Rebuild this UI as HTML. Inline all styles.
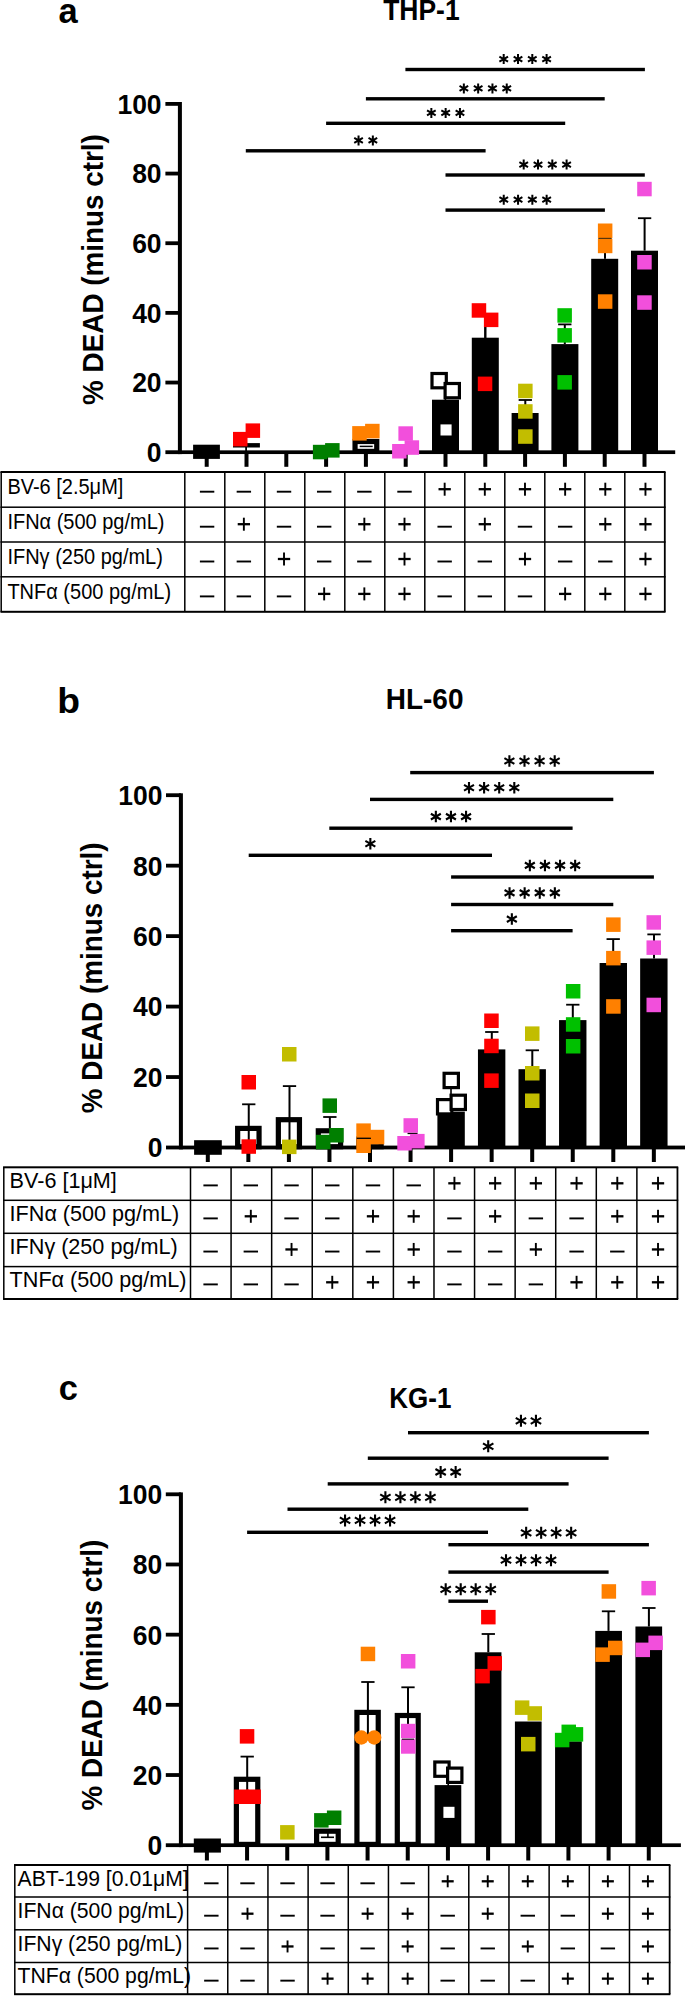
<!DOCTYPE html>
<html><head><meta charset="utf-8"><style>
html,body{margin:0;padding:0;background:#fff;}
body{width:685px;height:1996px;overflow:hidden;}
svg{display:block;font-family:"Liberation Sans",sans-serif;}
</style></head><body>
<svg width="685" height="1996" viewBox="0 0 685 1996">
<text transform="translate(58.60,22.70) scale(1.0,1.0)" font-size="34.5" font-weight="bold" text-anchor="start">a</text>
<text transform="translate(421.40,19.70) scale(1.0,1.1)" font-size="26.5" font-weight="bold" text-anchor="middle">THP-1</text>
<text transform="translate(102.6,269.5) rotate(-90) scale(1,1.03)" font-size="27.85" font-weight="bold" text-anchor="middle">% DEAD (minus ctrl)</text>
<rect x="177.90" y="102.00" width="4.00" height="352.10" fill="#000"/>
<rect x="165.40" y="450.30" width="14.50" height="3.80" fill="#000"/>
<text transform="translate(161.60,462.10) scale(1.0,1.057)" font-size="26.5" font-weight="bold" text-anchor="end">0</text>
<rect x="165.40" y="380.64" width="14.50" height="3.80" fill="#000"/>
<text transform="translate(161.60,392.44) scale(1.0,1.057)" font-size="26.5" font-weight="bold" text-anchor="end">20</text>
<rect x="165.40" y="310.98" width="14.50" height="3.80" fill="#000"/>
<text transform="translate(161.60,322.78) scale(1.0,1.057)" font-size="26.5" font-weight="bold" text-anchor="end">40</text>
<rect x="165.40" y="241.32" width="14.50" height="3.80" fill="#000"/>
<text transform="translate(161.60,253.12) scale(1.0,1.057)" font-size="26.5" font-weight="bold" text-anchor="end">60</text>
<rect x="165.40" y="171.66" width="14.50" height="3.80" fill="#000"/>
<text transform="translate(161.60,183.46) scale(1.0,1.057)" font-size="26.5" font-weight="bold" text-anchor="end">80</text>
<rect x="165.40" y="102.00" width="14.50" height="3.80" fill="#000"/>
<text transform="translate(161.60,113.80) scale(1.0,1.057)" font-size="26.5" font-weight="bold" text-anchor="end">100</text>
<rect x="355.05" y="441.50" width="21.70" height="9.90" fill="#fff" stroke="#000" stroke-width="5.2"/>
<rect x="359.70" y="445.65" width="13.00" height="1.50" fill="#000"/>
<rect x="432.00" y="399.70" width="27.00" height="52.50" fill="#000"/>
<rect x="471.80" y="337.70" width="27.00" height="114.50" fill="#000"/>
<rect x="511.60" y="413.00" width="27.00" height="39.20" fill="#000"/>
<rect x="551.40" y="344.10" width="27.00" height="108.10" fill="#000"/>
<rect x="591.20" y="258.80" width="27.00" height="193.40" fill="#000"/>
<rect x="631.00" y="250.70" width="27.00" height="201.50" fill="#000"/>
<rect x="179.90" y="450.35" width="495.30" height="3.70" fill="#000"/>
<rect x="204.70" y="452.20" width="4.00" height="14.60" fill="#000"/>
<rect x="244.50" y="452.20" width="4.00" height="14.60" fill="#000"/>
<rect x="284.30" y="452.20" width="4.00" height="14.60" fill="#000"/>
<rect x="324.10" y="452.20" width="4.00" height="14.60" fill="#000"/>
<rect x="363.90" y="452.20" width="4.00" height="14.60" fill="#000"/>
<rect x="403.70" y="452.20" width="4.00" height="14.60" fill="#000"/>
<rect x="443.50" y="452.20" width="4.00" height="14.60" fill="#000"/>
<rect x="483.30" y="452.20" width="4.00" height="14.60" fill="#000"/>
<rect x="523.10" y="452.20" width="4.00" height="14.60" fill="#000"/>
<rect x="562.90" y="452.20" width="4.00" height="14.60" fill="#000"/>
<rect x="602.70" y="452.20" width="4.00" height="14.60" fill="#000"/>
<rect x="642.50" y="452.20" width="4.00" height="14.60" fill="#000"/>
<rect x="444.60" y="388.00" width="1.60" height="12.00" fill="#000"/>
<rect x="484.10" y="326.00" width="2.40" height="12.00" fill="#000"/>
<rect x="524.30" y="400.00" width="2.00" height="13.00" fill="#000"/>
<rect x="518.65" y="399.10" width="13.30" height="1.80" fill="#000"/>
<rect x="563.80" y="324.40" width="2.00" height="19.70" fill="#000"/>
<rect x="558.15" y="323.50" width="13.30" height="1.80" fill="#000"/>
<rect x="604.00" y="238.30" width="2.00" height="20.50" fill="#000"/>
<rect x="598.35" y="237.40" width="13.30" height="1.80" fill="#000"/>
<rect x="643.60" y="218.20" width="2.00" height="32.50" fill="#000"/>
<rect x="637.95" y="217.30" width="13.30" height="1.80" fill="#000"/>
<rect x="193.10" y="444.70" width="26.80" height="14.20" fill="#000"/>
<rect x="233.00" y="443.10" width="26.90" height="4.40" fill="#000"/>
<rect x="245.20" y="447.00" width="1.80" height="4.00" fill="#000"/>
<rect x="233.00" y="431.90" width="14.50" height="14.50" fill="#ff0000"/>
<rect x="245.60" y="423.40" width="14.50" height="14.50" fill="#ff0000"/>
<rect x="312.90" y="444.80" width="14.50" height="14.50" fill="#007f00"/>
<rect x="325.10" y="443.10" width="14.50" height="14.50" fill="#007f00"/>
<rect x="352.20" y="426.10" width="14.50" height="14.50" fill="#ff8000"/>
<rect x="365.10" y="423.80" width="14.50" height="14.50" fill="#ff8000"/>
<rect x="398.40" y="426.30" width="14.50" height="14.50" fill="#f24fdc"/>
<rect x="392.10" y="444.00" width="14.50" height="14.50" fill="#f24fdc"/>
<rect x="404.60" y="440.30" width="14.50" height="14.50" fill="#f24fdc"/>
<rect x="432.00" y="373.50" width="14.30" height="14.30" fill="#fff" stroke="#000" stroke-width="3.2"/>
<rect x="445.10" y="383.50" width="14.30" height="14.30" fill="#fff" stroke="#000" stroke-width="3.2"/>
<rect x="438.90" y="422.80" width="14.30" height="14.30" fill="#fff" stroke="#000" stroke-width="3.2"/>
<rect x="471.70" y="303.20" width="14.50" height="14.50" fill="#ff0000"/>
<rect x="483.90" y="312.60" width="14.50" height="14.50" fill="#ff0000"/>
<rect x="477.80" y="376.60" width="14.50" height="14.50" fill="#ff0000"/>
<rect x="518.10" y="383.70" width="14.50" height="14.50" fill="#c2bd00"/>
<rect x="518.10" y="404.20" width="14.50" height="14.50" fill="#c2bd00"/>
<rect x="518.10" y="429.30" width="14.50" height="14.50" fill="#c2bd00"/>
<rect x="557.40" y="308.20" width="14.50" height="14.50" fill="#00c000"/>
<rect x="557.40" y="328.10" width="14.50" height="14.50" fill="#00c000"/>
<rect x="557.40" y="375.10" width="14.50" height="14.50" fill="#00c000"/>
<rect x="597.90" y="223.50" width="14.50" height="14.50" fill="#ff8000"/>
<rect x="597.90" y="238.70" width="14.50" height="14.50" fill="#ff8000"/>
<rect x="597.90" y="294.30" width="14.50" height="14.50" fill="#ff8000"/>
<rect x="599.00" y="237.80" width="12.00" height="1.00" fill="#5a3a10"/>
<rect x="637.20" y="181.80" width="14.50" height="14.50" fill="#f24fdc"/>
<rect x="637.20" y="255.00" width="14.50" height="14.50" fill="#f24fdc"/>
<rect x="637.20" y="295.30" width="14.50" height="14.50" fill="#f24fdc"/>
<rect x="405.40" y="67.80" width="239.50" height="3.40" fill="#000"/>
<path d="M503.70,54.10L503.70,64.10M499.37,56.60L508.03,61.60M508.03,56.60L499.37,61.60" stroke="#000" stroke-width="2.0" fill="none"/>
<path d="M518.00,54.10L518.00,64.10M513.67,56.60L522.33,61.60M522.33,56.60L513.67,61.60" stroke="#000" stroke-width="2.0" fill="none"/>
<path d="M532.30,54.10L532.30,64.10M527.97,56.60L536.63,61.60M536.63,56.60L527.97,61.60" stroke="#000" stroke-width="2.0" fill="none"/>
<path d="M546.60,54.10L546.60,64.10M542.27,56.60L550.93,61.60M550.93,56.60L542.27,61.60" stroke="#000" stroke-width="2.0" fill="none"/>
<rect x="365.90" y="97.10" width="238.80" height="3.40" fill="#000"/>
<path d="M463.85,83.40L463.85,93.40M459.52,85.90L468.18,90.90M468.18,85.90L459.52,90.90" stroke="#000" stroke-width="2.0" fill="none"/>
<path d="M478.15,83.40L478.15,93.40M473.82,85.90L482.48,90.90M482.48,85.90L473.82,90.90" stroke="#000" stroke-width="2.0" fill="none"/>
<path d="M492.45,83.40L492.45,93.40M488.12,85.90L496.78,90.90M496.78,85.90L488.12,90.90" stroke="#000" stroke-width="2.0" fill="none"/>
<path d="M506.75,83.40L506.75,93.40M502.42,85.90L511.08,90.90M511.08,85.90L502.42,90.90" stroke="#000" stroke-width="2.0" fill="none"/>
<rect x="326.10" y="121.60" width="239.10" height="3.40" fill="#000"/>
<path d="M431.35,107.90L431.35,117.90M427.02,110.40L435.68,115.40M435.68,110.40L427.02,115.40" stroke="#000" stroke-width="2.0" fill="none"/>
<path d="M445.65,107.90L445.65,117.90M441.32,110.40L449.98,115.40M449.98,110.40L441.32,115.40" stroke="#000" stroke-width="2.0" fill="none"/>
<path d="M459.95,107.90L459.95,117.90M455.62,110.40L464.28,115.40M464.28,110.40L455.62,115.40" stroke="#000" stroke-width="2.0" fill="none"/>
<rect x="245.80" y="149.10" width="239.80" height="3.40" fill="#000"/>
<path d="M358.55,135.40L358.55,145.40M354.22,137.90L362.88,142.90M362.88,137.90L354.22,142.90" stroke="#000" stroke-width="2.0" fill="none"/>
<path d="M372.85,135.40L372.85,145.40M368.52,137.90L377.18,142.90M377.18,137.90L368.52,142.90" stroke="#000" stroke-width="2.0" fill="none"/>
<rect x="445.50" y="173.30" width="199.30" height="3.40" fill="#000"/>
<path d="M523.70,159.60L523.70,169.60M519.37,162.10L528.03,167.10M528.03,162.10L519.37,167.10" stroke="#000" stroke-width="2.0" fill="none"/>
<path d="M538.00,159.60L538.00,169.60M533.67,162.10L542.33,167.10M542.33,162.10L533.67,167.10" stroke="#000" stroke-width="2.0" fill="none"/>
<path d="M552.30,159.60L552.30,169.60M547.97,162.10L556.63,167.10M556.63,162.10L547.97,167.10" stroke="#000" stroke-width="2.0" fill="none"/>
<path d="M566.60,159.60L566.60,169.60M562.27,162.10L570.93,167.10M570.93,162.10L562.27,167.10" stroke="#000" stroke-width="2.0" fill="none"/>
<rect x="445.50" y="208.40" width="159.40" height="3.40" fill="#000"/>
<path d="M503.75,194.70L503.75,204.70M499.42,197.20L508.08,202.20M508.08,197.20L499.42,202.20" stroke="#000" stroke-width="2.0" fill="none"/>
<path d="M518.05,194.70L518.05,204.70M513.72,197.20L522.38,202.20M522.38,197.20L513.72,202.20" stroke="#000" stroke-width="2.0" fill="none"/>
<path d="M532.35,194.70L532.35,204.70M528.02,197.20L536.68,202.20M536.68,197.20L528.02,202.20" stroke="#000" stroke-width="2.0" fill="none"/>
<path d="M546.65,194.70L546.65,204.70M542.32,197.20L550.98,202.20M550.98,197.20L542.32,202.20" stroke="#000" stroke-width="2.0" fill="none"/>
<rect x="0.45" y="471.00" width="665.10" height="2.00" fill="#000"/>
<rect x="0.45" y="506.45" width="665.10" height="1.50" fill="#000"/>
<rect x="0.45" y="541.25" width="665.10" height="1.50" fill="#000"/>
<rect x="0.45" y="576.05" width="665.10" height="1.50" fill="#000"/>
<rect x="0.45" y="610.80" width="665.10" height="2.00" fill="#000"/>
<rect x="0.45" y="472.00" width="1.50" height="139.80" fill="#000"/>
<rect x="184.05" y="472.00" width="1.50" height="139.80" fill="#000"/>
<rect x="224.05" y="472.00" width="1.50" height="139.80" fill="#000"/>
<rect x="264.05" y="472.00" width="1.50" height="139.80" fill="#000"/>
<rect x="304.05" y="472.00" width="1.50" height="139.80" fill="#000"/>
<rect x="344.05" y="472.00" width="1.50" height="139.80" fill="#000"/>
<rect x="384.05" y="472.00" width="1.50" height="139.80" fill="#000"/>
<rect x="424.05" y="472.00" width="1.50" height="139.80" fill="#000"/>
<rect x="464.05" y="472.00" width="1.50" height="139.80" fill="#000"/>
<rect x="504.05" y="472.00" width="1.50" height="139.80" fill="#000"/>
<rect x="544.05" y="472.00" width="1.50" height="139.80" fill="#000"/>
<rect x="584.05" y="472.00" width="1.50" height="139.80" fill="#000"/>
<rect x="624.05" y="472.00" width="1.50" height="139.80" fill="#000"/>
<rect x="663.90" y="472.00" width="1.80" height="139.80" fill="#000"/>
<text transform="translate(7.40,494.10) scale(1.0,1.06)" font-size="20" font-weight="normal" text-anchor="start">BV-6 [2.5μM]</text>
<rect x="199.90" y="490.75" width="14.40" height="1.90" fill="#000"/>
<rect x="236.66" y="490.75" width="14.40" height="1.90" fill="#000"/>
<rect x="276.82" y="490.75" width="14.40" height="1.90" fill="#000"/>
<rect x="316.98" y="490.75" width="14.40" height="1.90" fill="#000"/>
<rect x="357.14" y="490.75" width="14.40" height="1.90" fill="#000"/>
<rect x="397.30" y="490.75" width="14.40" height="1.90" fill="#000"/>
<rect x="443.71" y="482.70" width="1.90" height="13.00" fill="#000"/>
<rect x="438.51" y="488.05" width="12.30" height="2.30" fill="#000"/>
<rect x="483.87" y="482.70" width="1.90" height="13.00" fill="#000"/>
<rect x="478.67" y="488.05" width="12.30" height="2.30" fill="#000"/>
<rect x="524.03" y="482.70" width="1.90" height="13.00" fill="#000"/>
<rect x="518.83" y="488.05" width="12.30" height="2.30" fill="#000"/>
<rect x="564.19" y="482.70" width="1.90" height="13.00" fill="#000"/>
<rect x="558.99" y="488.05" width="12.30" height="2.30" fill="#000"/>
<rect x="604.35" y="482.70" width="1.90" height="13.00" fill="#000"/>
<rect x="599.15" y="488.05" width="12.30" height="2.30" fill="#000"/>
<rect x="644.51" y="482.70" width="1.90" height="13.00" fill="#000"/>
<rect x="639.31" y="488.05" width="12.30" height="2.30" fill="#000"/>
<text transform="translate(7.40,529.10) scale(1.0,1.06)" font-size="20" font-weight="normal" text-anchor="start">IFNα (500 pg/mL)</text>
<rect x="199.90" y="525.75" width="14.40" height="1.90" fill="#000"/>
<rect x="242.91" y="517.70" width="1.90" height="13.00" fill="#000"/>
<rect x="237.71" y="523.05" width="12.30" height="2.30" fill="#000"/>
<rect x="276.82" y="525.75" width="14.40" height="1.90" fill="#000"/>
<rect x="316.98" y="525.75" width="14.40" height="1.90" fill="#000"/>
<rect x="363.39" y="517.70" width="1.90" height="13.00" fill="#000"/>
<rect x="358.19" y="523.05" width="12.30" height="2.30" fill="#000"/>
<rect x="403.55" y="517.70" width="1.90" height="13.00" fill="#000"/>
<rect x="398.35" y="523.05" width="12.30" height="2.30" fill="#000"/>
<rect x="437.46" y="525.75" width="14.40" height="1.90" fill="#000"/>
<rect x="483.87" y="517.70" width="1.90" height="13.00" fill="#000"/>
<rect x="478.67" y="523.05" width="12.30" height="2.30" fill="#000"/>
<rect x="517.78" y="525.75" width="14.40" height="1.90" fill="#000"/>
<rect x="557.94" y="525.75" width="14.40" height="1.90" fill="#000"/>
<rect x="604.35" y="517.70" width="1.90" height="13.00" fill="#000"/>
<rect x="599.15" y="523.05" width="12.30" height="2.30" fill="#000"/>
<rect x="644.51" y="517.70" width="1.90" height="13.00" fill="#000"/>
<rect x="639.31" y="523.05" width="12.30" height="2.30" fill="#000"/>
<text transform="translate(7.40,563.90) scale(1.0,1.06)" font-size="20" font-weight="normal" text-anchor="start">IFNγ (250 pg/mL)</text>
<rect x="199.90" y="560.55" width="14.40" height="1.90" fill="#000"/>
<rect x="236.66" y="560.55" width="14.40" height="1.90" fill="#000"/>
<rect x="283.07" y="552.50" width="1.90" height="13.00" fill="#000"/>
<rect x="277.87" y="557.85" width="12.30" height="2.30" fill="#000"/>
<rect x="316.98" y="560.55" width="14.40" height="1.90" fill="#000"/>
<rect x="357.14" y="560.55" width="14.40" height="1.90" fill="#000"/>
<rect x="403.55" y="552.50" width="1.90" height="13.00" fill="#000"/>
<rect x="398.35" y="557.85" width="12.30" height="2.30" fill="#000"/>
<rect x="437.46" y="560.55" width="14.40" height="1.90" fill="#000"/>
<rect x="477.62" y="560.55" width="14.40" height="1.90" fill="#000"/>
<rect x="524.03" y="552.50" width="1.90" height="13.00" fill="#000"/>
<rect x="518.83" y="557.85" width="12.30" height="2.30" fill="#000"/>
<rect x="557.94" y="560.55" width="14.40" height="1.90" fill="#000"/>
<rect x="598.10" y="560.55" width="14.40" height="1.90" fill="#000"/>
<rect x="644.51" y="552.50" width="1.90" height="13.00" fill="#000"/>
<rect x="639.31" y="557.85" width="12.30" height="2.30" fill="#000"/>
<text transform="translate(7.40,598.80) scale(1.0,1.06)" font-size="20" font-weight="normal" text-anchor="start">TNFα (500 pg/mL)</text>
<rect x="199.90" y="595.45" width="14.40" height="1.90" fill="#000"/>
<rect x="236.66" y="595.45" width="14.40" height="1.90" fill="#000"/>
<rect x="276.82" y="595.45" width="14.40" height="1.90" fill="#000"/>
<rect x="323.23" y="587.40" width="1.90" height="13.00" fill="#000"/>
<rect x="318.03" y="592.75" width="12.30" height="2.30" fill="#000"/>
<rect x="363.39" y="587.40" width="1.90" height="13.00" fill="#000"/>
<rect x="358.19" y="592.75" width="12.30" height="2.30" fill="#000"/>
<rect x="403.55" y="587.40" width="1.90" height="13.00" fill="#000"/>
<rect x="398.35" y="592.75" width="12.30" height="2.30" fill="#000"/>
<rect x="437.46" y="595.45" width="14.40" height="1.90" fill="#000"/>
<rect x="477.62" y="595.45" width="14.40" height="1.90" fill="#000"/>
<rect x="517.78" y="595.45" width="14.40" height="1.90" fill="#000"/>
<rect x="564.19" y="587.40" width="1.90" height="13.00" fill="#000"/>
<rect x="558.99" y="592.75" width="12.30" height="2.30" fill="#000"/>
<rect x="604.35" y="587.40" width="1.90" height="13.00" fill="#000"/>
<rect x="599.15" y="592.75" width="12.30" height="2.30" fill="#000"/>
<rect x="644.51" y="587.40" width="1.90" height="13.00" fill="#000"/>
<rect x="639.31" y="592.75" width="12.30" height="2.30" fill="#000"/>
<text transform="translate(57.20,712.80) scale(1.08,1.0)" font-size="34.5" font-weight="bold" text-anchor="start">b</text>
<text transform="translate(424.60,708.90) scale(1.0,1.05)" font-size="28" font-weight="bold" text-anchor="middle">HL-60</text>
<text transform="translate(101.5,977.8) rotate(-90) scale(1,1.03)" font-size="27.85" font-weight="bold" text-anchor="middle">% DEAD (minus ctrl)</text>
<rect x="178.90" y="793.30" width="4.00" height="356.10" fill="#000"/>
<rect x="166.00" y="1145.60" width="14.90" height="3.80" fill="#000"/>
<text transform="translate(162.40,1157.40) scale(1.0,1.057)" font-size="26.5" font-weight="bold" text-anchor="end">0</text>
<rect x="166.00" y="1075.14" width="14.90" height="3.80" fill="#000"/>
<text transform="translate(162.40,1086.94) scale(1.0,1.057)" font-size="26.5" font-weight="bold" text-anchor="end">20</text>
<rect x="166.00" y="1004.68" width="14.90" height="3.80" fill="#000"/>
<text transform="translate(162.40,1016.48) scale(1.0,1.057)" font-size="26.5" font-weight="bold" text-anchor="end">40</text>
<rect x="166.00" y="934.22" width="14.90" height="3.80" fill="#000"/>
<text transform="translate(162.40,946.02) scale(1.0,1.057)" font-size="26.5" font-weight="bold" text-anchor="end">60</text>
<rect x="166.00" y="863.76" width="14.90" height="3.80" fill="#000"/>
<text transform="translate(162.40,875.56) scale(1.0,1.057)" font-size="26.5" font-weight="bold" text-anchor="end">80</text>
<rect x="166.00" y="793.30" width="14.90" height="3.80" fill="#000"/>
<text transform="translate(162.40,805.10) scale(1.0,1.057)" font-size="26.5" font-weight="bold" text-anchor="end">100</text>
<rect x="237.65" y="1128.40" width="21.40" height="18.30" fill="#fff" stroke="#000" stroke-width="5.2"/>
<rect x="278.35" y="1119.70" width="21.10" height="27.00" fill="#fff" stroke="#000" stroke-width="5.2"/>
<rect x="318.30" y="1130.80" width="22.30" height="15.90" fill="#fff" stroke="#000" stroke-width="5.2"/>
<rect x="358.85" y="1139.10" width="22.30" height="7.60" fill="#fff" stroke="#000" stroke-width="5.2"/>
<rect x="437.40" y="1111.60" width="27.40" height="35.90" fill="#000"/>
<rect x="477.95" y="1049.40" width="27.40" height="98.10" fill="#000"/>
<rect x="518.50" y="1069.20" width="27.40" height="78.30" fill="#000"/>
<rect x="559.05" y="1020.10" width="27.40" height="127.40" fill="#000"/>
<rect x="599.60" y="963.00" width="27.40" height="184.50" fill="#000"/>
<rect x="640.15" y="958.50" width="27.40" height="189.00" fill="#000"/>
<rect x="180.90" y="1145.60" width="504.10" height="3.80" fill="#000"/>
<rect x="205.80" y="1147.50" width="4.00" height="14.50" fill="#000"/>
<rect x="246.35" y="1147.50" width="4.00" height="14.50" fill="#000"/>
<rect x="286.90" y="1147.50" width="4.00" height="14.50" fill="#000"/>
<rect x="327.45" y="1147.50" width="4.00" height="14.50" fill="#000"/>
<rect x="368.00" y="1147.50" width="4.00" height="14.50" fill="#000"/>
<rect x="408.55" y="1147.50" width="4.00" height="14.50" fill="#000"/>
<rect x="449.10" y="1147.50" width="4.00" height="14.50" fill="#000"/>
<rect x="489.65" y="1147.50" width="4.00" height="14.50" fill="#000"/>
<rect x="530.20" y="1147.50" width="4.00" height="14.50" fill="#000"/>
<rect x="570.75" y="1147.50" width="4.00" height="14.50" fill="#000"/>
<rect x="611.30" y="1147.50" width="4.00" height="14.50" fill="#000"/>
<rect x="651.85" y="1147.50" width="4.00" height="14.50" fill="#000"/>
<rect x="247.75" y="1104.30" width="2.00" height="42.70" fill="#000"/>
<rect x="242.10" y="1103.40" width="13.30" height="1.80" fill="#000"/>
<rect x="288.50" y="1086.10" width="2.00" height="60.90" fill="#000"/>
<rect x="282.85" y="1085.20" width="13.30" height="1.80" fill="#000"/>
<rect x="328.85" y="1117.00" width="2.00" height="11.50" fill="#000"/>
<rect x="323.20" y="1116.10" width="13.30" height="1.80" fill="#000"/>
<rect x="407.55" y="1132.65" width="10.00" height="1.50" fill="#000"/>
<rect x="450.20" y="1087.00" width="1.60" height="8.00" fill="#000"/>
<rect x="490.80" y="1032.00" width="2.00" height="17.40" fill="#000"/>
<rect x="485.15" y="1031.10" width="13.30" height="1.80" fill="#000"/>
<rect x="531.30" y="1050.30" width="2.00" height="18.90" fill="#000"/>
<rect x="525.65" y="1049.40" width="13.30" height="1.80" fill="#000"/>
<rect x="571.80" y="1004.70" width="2.00" height="15.40" fill="#000"/>
<rect x="566.15" y="1003.80" width="13.30" height="1.80" fill="#000"/>
<rect x="612.20" y="939.10" width="2.00" height="23.90" fill="#000"/>
<rect x="606.55" y="938.20" width="13.30" height="1.80" fill="#000"/>
<rect x="653.00" y="934.40" width="2.00" height="24.10" fill="#000"/>
<rect x="647.35" y="933.50" width="13.30" height="1.80" fill="#000"/>
<rect x="194.10" y="1140.20" width="27.70" height="14.60" fill="#000"/>
<rect x="241.50" y="1075.00" width="14.50" height="14.50" fill="#ff0000"/>
<rect x="241.50" y="1139.30" width="14.50" height="14.50" fill="#ff0000"/>
<rect x="282.00" y="1047.00" width="14.50" height="14.50" fill="#c2bd00"/>
<rect x="282.00" y="1139.60" width="14.50" height="14.50" fill="#c2bd00"/>
<rect x="322.50" y="1098.40" width="14.50" height="14.50" fill="#007f00"/>
<rect x="316.00" y="1134.80" width="14.50" height="14.50" fill="#007f00"/>
<rect x="329.20" y="1128.00" width="14.50" height="14.50" fill="#007f00"/>
<rect x="356.30" y="1123.40" width="14.50" height="14.50" fill="#ff8000"/>
<rect x="356.30" y="1138.50" width="14.50" height="14.50" fill="#ff8000"/>
<rect x="369.80" y="1129.80" width="14.50" height="14.50" fill="#ff8000"/>
<rect x="357.00" y="1137.70" width="14.00" height="1.20" fill="#000"/>
<rect x="403.50" y="1118.20" width="14.50" height="14.50" fill="#f24fdc"/>
<rect x="397.30" y="1136.00" width="14.50" height="14.50" fill="#f24fdc"/>
<rect x="410.10" y="1133.90" width="14.50" height="14.50" fill="#f24fdc"/>
<rect x="444.10" y="1073.30" width="14.30" height="14.30" fill="#fff" stroke="#000" stroke-width="3.2"/>
<rect x="437.50" y="1099.60" width="14.30" height="14.30" fill="#fff" stroke="#000" stroke-width="3.2"/>
<rect x="451.10" y="1095.20" width="14.30" height="14.30" fill="#fff" stroke="#000" stroke-width="3.2"/>
<rect x="484.20" y="1013.50" width="14.50" height="14.50" fill="#ff0000"/>
<rect x="484.20" y="1038.70" width="14.50" height="14.50" fill="#ff0000"/>
<rect x="484.20" y="1073.40" width="14.50" height="14.50" fill="#ff0000"/>
<rect x="525.00" y="1026.40" width="14.50" height="14.50" fill="#c2bd00"/>
<rect x="525.00" y="1066.00" width="14.50" height="14.50" fill="#c2bd00"/>
<rect x="525.00" y="1093.50" width="14.50" height="14.50" fill="#c2bd00"/>
<rect x="565.90" y="984.00" width="14.50" height="14.50" fill="#00c000"/>
<rect x="565.90" y="1017.20" width="14.50" height="14.50" fill="#00c000"/>
<rect x="565.90" y="1039.00" width="14.50" height="14.50" fill="#00c000"/>
<rect x="606.10" y="917.40" width="14.50" height="14.50" fill="#ff8000"/>
<rect x="606.10" y="950.90" width="14.50" height="14.50" fill="#ff8000"/>
<rect x="606.10" y="999.20" width="14.50" height="14.50" fill="#ff8000"/>
<rect x="646.50" y="915.20" width="14.50" height="14.50" fill="#f24fdc"/>
<rect x="646.50" y="940.40" width="14.50" height="14.50" fill="#f24fdc"/>
<rect x="646.50" y="997.70" width="14.50" height="14.50" fill="#f24fdc"/>
<rect x="410.20" y="770.90" width="243.70" height="3.40" fill="#000"/>
<path d="M509.40,755.25L509.40,766.75M504.42,758.12L514.38,763.88M514.38,758.12L504.42,763.88" stroke="#000" stroke-width="2.1" fill="none"/>
<path d="M524.50,755.25L524.50,766.75M519.52,758.12L529.48,763.88M529.48,758.12L519.52,763.88" stroke="#000" stroke-width="2.1" fill="none"/>
<path d="M539.60,755.25L539.60,766.75M534.62,758.12L544.58,763.88M544.58,758.12L534.62,763.88" stroke="#000" stroke-width="2.1" fill="none"/>
<path d="M554.70,755.25L554.70,766.75M549.72,758.12L559.68,763.88M559.68,758.12L549.72,763.88" stroke="#000" stroke-width="2.1" fill="none"/>
<rect x="370.00" y="797.70" width="243.30" height="3.40" fill="#000"/>
<path d="M469.00,782.05L469.00,793.55M464.02,784.92L473.98,790.67M473.98,784.92L464.02,790.67" stroke="#000" stroke-width="2.1" fill="none"/>
<path d="M484.10,782.05L484.10,793.55M479.12,784.92L489.08,790.67M489.08,784.92L479.12,790.67" stroke="#000" stroke-width="2.1" fill="none"/>
<path d="M499.20,782.05L499.20,793.55M494.22,784.92L504.18,790.67M504.18,784.92L494.22,790.67" stroke="#000" stroke-width="2.1" fill="none"/>
<path d="M514.30,782.05L514.30,793.55M509.32,784.92L519.28,790.67M519.28,784.92L509.32,790.67" stroke="#000" stroke-width="2.1" fill="none"/>
<rect x="329.30" y="826.50" width="243.30" height="3.40" fill="#000"/>
<path d="M435.85,810.85L435.85,822.35M430.87,813.73L440.83,819.48M440.83,813.73L430.87,819.48" stroke="#000" stroke-width="2.1" fill="none"/>
<path d="M450.95,810.85L450.95,822.35M445.97,813.73L455.93,819.48M455.93,813.73L445.97,819.48" stroke="#000" stroke-width="2.1" fill="none"/>
<path d="M466.05,810.85L466.05,822.35M461.07,813.73L471.03,819.48M471.03,813.73L461.07,819.48" stroke="#000" stroke-width="2.1" fill="none"/>
<rect x="248.70" y="853.60" width="243.30" height="3.40" fill="#000"/>
<path d="M370.35,837.95L370.35,849.45M365.37,840.82L375.33,846.57M375.33,840.82L365.37,846.57" stroke="#000" stroke-width="2.1" fill="none"/>
<rect x="451.10" y="875.30" width="202.80" height="3.40" fill="#000"/>
<path d="M529.85,859.65L529.85,871.15M524.87,862.52L534.83,868.27M534.83,862.52L524.87,868.27" stroke="#000" stroke-width="2.1" fill="none"/>
<path d="M544.95,859.65L544.95,871.15M539.97,862.52L549.93,868.27M549.93,862.52L539.97,868.27" stroke="#000" stroke-width="2.1" fill="none"/>
<path d="M560.05,859.65L560.05,871.15M555.07,862.52L565.03,868.27M565.03,862.52L555.07,868.27" stroke="#000" stroke-width="2.1" fill="none"/>
<path d="M575.15,859.65L575.15,871.15M570.17,862.52L580.13,868.27M580.13,862.52L570.17,868.27" stroke="#000" stroke-width="2.1" fill="none"/>
<rect x="451.10" y="902.80" width="162.20" height="3.40" fill="#000"/>
<path d="M509.55,887.15L509.55,898.65M504.57,890.02L514.53,895.77M514.53,890.02L504.57,895.77" stroke="#000" stroke-width="2.1" fill="none"/>
<path d="M524.65,887.15L524.65,898.65M519.67,890.02L529.63,895.77M529.63,890.02L519.67,895.77" stroke="#000" stroke-width="2.1" fill="none"/>
<path d="M539.75,887.15L539.75,898.65M534.77,890.02L544.73,895.77M544.73,890.02L534.77,895.77" stroke="#000" stroke-width="2.1" fill="none"/>
<path d="M554.85,887.15L554.85,898.65M549.87,890.02L559.83,895.77M559.83,890.02L549.87,895.77" stroke="#000" stroke-width="2.1" fill="none"/>
<rect x="451.10" y="929.00" width="121.50" height="3.40" fill="#000"/>
<path d="M511.85,913.35L511.85,924.85M506.87,916.23L516.83,921.98M516.83,916.23L506.87,921.98" stroke="#000" stroke-width="2.1" fill="none"/>
<rect x="3.05" y="1166.30" width="675.16" height="2.00" fill="#000"/>
<rect x="3.05" y="1199.55" width="675.16" height="1.50" fill="#000"/>
<rect x="3.05" y="1232.55" width="675.16" height="1.50" fill="#000"/>
<rect x="3.05" y="1265.85" width="675.16" height="1.50" fill="#000"/>
<rect x="3.05" y="1298.00" width="675.16" height="2.00" fill="#000"/>
<rect x="3.05" y="1167.30" width="1.50" height="131.70" fill="#000"/>
<rect x="189.75" y="1167.30" width="1.50" height="131.70" fill="#000"/>
<rect x="230.33" y="1167.30" width="1.50" height="131.70" fill="#000"/>
<rect x="270.91" y="1167.30" width="1.50" height="131.70" fill="#000"/>
<rect x="311.49" y="1167.30" width="1.50" height="131.70" fill="#000"/>
<rect x="352.07" y="1167.30" width="1.50" height="131.70" fill="#000"/>
<rect x="392.65" y="1167.30" width="1.50" height="131.70" fill="#000"/>
<rect x="433.23" y="1167.30" width="1.50" height="131.70" fill="#000"/>
<rect x="473.81" y="1167.30" width="1.50" height="131.70" fill="#000"/>
<rect x="514.39" y="1167.30" width="1.50" height="131.70" fill="#000"/>
<rect x="554.97" y="1167.30" width="1.50" height="131.70" fill="#000"/>
<rect x="595.55" y="1167.30" width="1.50" height="131.70" fill="#000"/>
<rect x="636.13" y="1167.30" width="1.50" height="131.70" fill="#000"/>
<rect x="676.56" y="1167.30" width="1.80" height="131.70" fill="#000"/>
<text transform="translate(9.60,1188.30) scale(1.08,1.06)" font-size="20" font-weight="normal" text-anchor="start">BV-6 [1μM]</text>
<rect x="203.40" y="1184.45" width="14.40" height="1.90" fill="#000"/>
<rect x="243.62" y="1184.45" width="14.40" height="1.90" fill="#000"/>
<rect x="284.34" y="1184.45" width="14.40" height="1.90" fill="#000"/>
<rect x="325.06" y="1184.45" width="14.40" height="1.90" fill="#000"/>
<rect x="365.78" y="1184.45" width="14.40" height="1.90" fill="#000"/>
<rect x="406.50" y="1184.45" width="14.40" height="1.90" fill="#000"/>
<rect x="453.47" y="1176.80" width="1.90" height="13.00" fill="#000"/>
<rect x="448.27" y="1182.15" width="12.30" height="2.30" fill="#000"/>
<rect x="494.19" y="1176.80" width="1.90" height="13.00" fill="#000"/>
<rect x="488.99" y="1182.15" width="12.30" height="2.30" fill="#000"/>
<rect x="534.91" y="1176.80" width="1.90" height="13.00" fill="#000"/>
<rect x="529.71" y="1182.15" width="12.30" height="2.30" fill="#000"/>
<rect x="575.63" y="1176.80" width="1.90" height="13.00" fill="#000"/>
<rect x="570.43" y="1182.15" width="12.30" height="2.30" fill="#000"/>
<rect x="616.35" y="1176.80" width="1.90" height="13.00" fill="#000"/>
<rect x="611.15" y="1182.15" width="12.30" height="2.30" fill="#000"/>
<rect x="657.07" y="1176.80" width="1.90" height="13.00" fill="#000"/>
<rect x="651.87" y="1182.15" width="12.30" height="2.30" fill="#000"/>
<text transform="translate(9.60,1221.30) scale(1.08,1.06)" font-size="20" font-weight="normal" text-anchor="start">IFNα (500 pg/mL)</text>
<rect x="203.40" y="1217.45" width="14.40" height="1.90" fill="#000"/>
<rect x="249.87" y="1209.80" width="1.90" height="13.00" fill="#000"/>
<rect x="244.67" y="1215.15" width="12.30" height="2.30" fill="#000"/>
<rect x="284.34" y="1217.45" width="14.40" height="1.90" fill="#000"/>
<rect x="325.06" y="1217.45" width="14.40" height="1.90" fill="#000"/>
<rect x="372.03" y="1209.80" width="1.90" height="13.00" fill="#000"/>
<rect x="366.83" y="1215.15" width="12.30" height="2.30" fill="#000"/>
<rect x="412.75" y="1209.80" width="1.90" height="13.00" fill="#000"/>
<rect x="407.55" y="1215.15" width="12.30" height="2.30" fill="#000"/>
<rect x="447.22" y="1217.45" width="14.40" height="1.90" fill="#000"/>
<rect x="494.19" y="1209.80" width="1.90" height="13.00" fill="#000"/>
<rect x="488.99" y="1215.15" width="12.30" height="2.30" fill="#000"/>
<rect x="528.66" y="1217.45" width="14.40" height="1.90" fill="#000"/>
<rect x="569.38" y="1217.45" width="14.40" height="1.90" fill="#000"/>
<rect x="616.35" y="1209.80" width="1.90" height="13.00" fill="#000"/>
<rect x="611.15" y="1215.15" width="12.30" height="2.30" fill="#000"/>
<rect x="657.07" y="1209.80" width="1.90" height="13.00" fill="#000"/>
<rect x="651.87" y="1215.15" width="12.30" height="2.30" fill="#000"/>
<text transform="translate(9.60,1254.45) scale(1.08,1.06)" font-size="20" font-weight="normal" text-anchor="start">IFNγ (250 pg/mL)</text>
<rect x="203.40" y="1250.60" width="14.40" height="1.90" fill="#000"/>
<rect x="243.62" y="1250.60" width="14.40" height="1.90" fill="#000"/>
<rect x="290.59" y="1242.95" width="1.90" height="13.00" fill="#000"/>
<rect x="285.39" y="1248.30" width="12.30" height="2.30" fill="#000"/>
<rect x="325.06" y="1250.60" width="14.40" height="1.90" fill="#000"/>
<rect x="365.78" y="1250.60" width="14.40" height="1.90" fill="#000"/>
<rect x="412.75" y="1242.95" width="1.90" height="13.00" fill="#000"/>
<rect x="407.55" y="1248.30" width="12.30" height="2.30" fill="#000"/>
<rect x="447.22" y="1250.60" width="14.40" height="1.90" fill="#000"/>
<rect x="487.94" y="1250.60" width="14.40" height="1.90" fill="#000"/>
<rect x="534.91" y="1242.95" width="1.90" height="13.00" fill="#000"/>
<rect x="529.71" y="1248.30" width="12.30" height="2.30" fill="#000"/>
<rect x="569.38" y="1250.60" width="14.40" height="1.90" fill="#000"/>
<rect x="610.10" y="1250.60" width="14.40" height="1.90" fill="#000"/>
<rect x="657.07" y="1242.95" width="1.90" height="13.00" fill="#000"/>
<rect x="651.87" y="1248.30" width="12.30" height="2.30" fill="#000"/>
<text transform="translate(9.60,1287.30) scale(1.08,1.06)" font-size="20" font-weight="normal" text-anchor="start">TNFα (500 pg/mL)</text>
<rect x="203.40" y="1283.45" width="14.40" height="1.90" fill="#000"/>
<rect x="243.62" y="1283.45" width="14.40" height="1.90" fill="#000"/>
<rect x="284.34" y="1283.45" width="14.40" height="1.90" fill="#000"/>
<rect x="331.31" y="1275.80" width="1.90" height="13.00" fill="#000"/>
<rect x="326.11" y="1281.15" width="12.30" height="2.30" fill="#000"/>
<rect x="372.03" y="1275.80" width="1.90" height="13.00" fill="#000"/>
<rect x="366.83" y="1281.15" width="12.30" height="2.30" fill="#000"/>
<rect x="412.75" y="1275.80" width="1.90" height="13.00" fill="#000"/>
<rect x="407.55" y="1281.15" width="12.30" height="2.30" fill="#000"/>
<rect x="447.22" y="1283.45" width="14.40" height="1.90" fill="#000"/>
<rect x="487.94" y="1283.45" width="14.40" height="1.90" fill="#000"/>
<rect x="528.66" y="1283.45" width="14.40" height="1.90" fill="#000"/>
<rect x="575.63" y="1275.80" width="1.90" height="13.00" fill="#000"/>
<rect x="570.43" y="1281.15" width="12.30" height="2.30" fill="#000"/>
<rect x="616.35" y="1275.80" width="1.90" height="13.00" fill="#000"/>
<rect x="611.15" y="1281.15" width="12.30" height="2.30" fill="#000"/>
<rect x="657.07" y="1275.80" width="1.90" height="13.00" fill="#000"/>
<rect x="651.87" y="1281.15" width="12.30" height="2.30" fill="#000"/>
<text transform="translate(58.80,1400.40) scale(1.0,1.0)" font-size="34.5" font-weight="bold" text-anchor="start">c</text>
<text transform="translate(420.40,1407.70) scale(1.0,1.12)" font-size="26" font-weight="bold" text-anchor="middle">KG-1</text>
<text transform="translate(101.5,1675.1) rotate(-90) scale(1,1.03)" font-size="27.85" font-weight="bold" text-anchor="middle">% DEAD (minus ctrl)</text>
<rect x="178.90" y="1492.40" width="4.00" height="354.70" fill="#000"/>
<rect x="165.80" y="1843.30" width="15.10" height="3.80" fill="#000"/>
<text transform="translate(162.20,1855.10) scale(1.0,1.057)" font-size="26.5" font-weight="bold" text-anchor="end">0</text>
<rect x="165.80" y="1773.12" width="15.10" height="3.80" fill="#000"/>
<text transform="translate(162.20,1784.92) scale(1.0,1.057)" font-size="26.5" font-weight="bold" text-anchor="end">20</text>
<rect x="165.80" y="1702.94" width="15.10" height="3.80" fill="#000"/>
<text transform="translate(162.20,1714.74) scale(1.0,1.057)" font-size="26.5" font-weight="bold" text-anchor="end">40</text>
<rect x="165.80" y="1632.76" width="15.10" height="3.80" fill="#000"/>
<text transform="translate(162.20,1644.56) scale(1.0,1.057)" font-size="26.5" font-weight="bold" text-anchor="end">60</text>
<rect x="165.80" y="1562.58" width="15.10" height="3.80" fill="#000"/>
<text transform="translate(162.20,1574.38) scale(1.0,1.057)" font-size="26.5" font-weight="bold" text-anchor="end">80</text>
<rect x="165.80" y="1492.40" width="15.10" height="3.80" fill="#000"/>
<text transform="translate(162.20,1504.20) scale(1.0,1.057)" font-size="26.5" font-weight="bold" text-anchor="end">100</text>
<rect x="236.37" y="1779.30" width="21.40" height="65.10" fill="#fff" stroke="#000" stroke-width="5.2"/>
<rect x="316.61" y="1831.20" width="21.60" height="13.20" fill="#fff" stroke="#000" stroke-width="5.2"/>
<rect x="356.93" y="1712.40" width="21.30" height="132.00" fill="#fff" stroke="#000" stroke-width="5.2"/>
<rect x="397.30" y="1715.50" width="20.90" height="128.90" fill="#fff" stroke="#000" stroke-width="5.2"/>
<rect x="434.57" y="1785.10" width="26.70" height="60.10" fill="#000"/>
<rect x="474.74" y="1652.30" width="26.70" height="192.90" fill="#000"/>
<rect x="514.91" y="1721.50" width="26.70" height="123.70" fill="#000"/>
<rect x="555.08" y="1741.30" width="26.70" height="103.90" fill="#000"/>
<rect x="595.25" y="1630.90" width="26.70" height="214.30" fill="#000"/>
<rect x="635.42" y="1626.50" width="26.70" height="218.70" fill="#000"/>
<rect x="180.90" y="1843.35" width="500.00" height="3.70" fill="#000"/>
<rect x="204.90" y="1845.20" width="4.00" height="15.30" fill="#000"/>
<rect x="245.07" y="1845.20" width="4.00" height="15.30" fill="#000"/>
<rect x="285.24" y="1845.20" width="4.00" height="15.30" fill="#000"/>
<rect x="325.41" y="1845.20" width="4.00" height="15.30" fill="#000"/>
<rect x="365.58" y="1845.20" width="4.00" height="15.30" fill="#000"/>
<rect x="405.75" y="1845.20" width="4.00" height="15.30" fill="#000"/>
<rect x="445.92" y="1845.20" width="4.00" height="15.30" fill="#000"/>
<rect x="486.09" y="1845.20" width="4.00" height="15.30" fill="#000"/>
<rect x="526.26" y="1845.20" width="4.00" height="15.30" fill="#000"/>
<rect x="566.43" y="1845.20" width="4.00" height="15.30" fill="#000"/>
<rect x="606.60" y="1845.20" width="4.00" height="15.30" fill="#000"/>
<rect x="646.77" y="1845.20" width="4.00" height="15.30" fill="#000"/>
<rect x="246.20" y="1756.60" width="2.00" height="40.40" fill="#000"/>
<rect x="240.55" y="1755.70" width="13.30" height="1.80" fill="#000"/>
<rect x="366.90" y="1682.00" width="2.00" height="58.00" fill="#000"/>
<rect x="361.25" y="1681.10" width="13.30" height="1.80" fill="#000"/>
<rect x="407.00" y="1687.30" width="2.00" height="50.70" fill="#000"/>
<rect x="401.35" y="1686.40" width="13.30" height="1.80" fill="#000"/>
<rect x="321.00" y="1836.50" width="13.00" height="1.60" fill="#000"/>
<rect x="327.10" y="1830.00" width="1.60" height="7.00" fill="#000"/>
<rect x="487.30" y="1634.00" width="2.00" height="18.30" fill="#000"/>
<rect x="481.65" y="1633.10" width="13.30" height="1.80" fill="#000"/>
<rect x="607.50" y="1611.30" width="2.00" height="19.60" fill="#000"/>
<rect x="601.85" y="1610.40" width="13.30" height="1.80" fill="#000"/>
<rect x="647.90" y="1608.00" width="2.00" height="18.50" fill="#000"/>
<rect x="642.25" y="1607.10" width="13.30" height="1.80" fill="#000"/>
<rect x="447.40" y="1780.00" width="1.60" height="6.00" fill="#000"/>
<rect x="193.80" y="1838.50" width="27.10" height="14.10" fill="#000"/>
<rect x="239.80" y="1729.10" width="14.50" height="14.50" fill="#ff0000"/>
<rect x="234.10" y="1789.50" width="14.50" height="14.50" fill="#ff0000"/>
<rect x="246.40" y="1789.50" width="14.50" height="14.50" fill="#ff0000"/>
<rect x="280.10" y="1825.10" width="14.50" height="14.50" fill="#c2bd00"/>
<rect x="314.10" y="1813.10" width="14.50" height="14.50" fill="#007f00"/>
<rect x="326.90" y="1810.50" width="14.50" height="14.50" fill="#007f00"/>
<rect x="360.70" y="1646.70" width="14.50" height="14.50" fill="#ff8000"/>
<circle cx="361.40" cy="1737.50" r="7.2" fill="#ff8000"/>
<circle cx="374.20" cy="1737.50" r="7.2" fill="#ff8000"/>
<rect x="400.90" y="1654.00" width="14.50" height="14.50" fill="#f24fdc"/>
<rect x="401.00" y="1723.80" width="14.50" height="14.50" fill="#f24fdc"/>
<rect x="401.00" y="1739.20" width="14.50" height="14.50" fill="#f24fdc"/>
<rect x="402.00" y="1738.70" width="12.00" height="1.00" fill="#000"/>
<rect x="434.80" y="1762.00" width="14.30" height="14.30" fill="#fff" stroke="#000" stroke-width="3.2"/>
<rect x="447.60" y="1768.10" width="14.30" height="14.30" fill="#fff" stroke="#000" stroke-width="3.2"/>
<rect x="441.80" y="1805.20" width="14.30" height="14.30" fill="#fff" stroke="#000" stroke-width="3.2"/>
<rect x="481.10" y="1609.90" width="14.50" height="14.50" fill="#ff0000"/>
<rect x="487.50" y="1656.10" width="14.50" height="14.50" fill="#ff0000"/>
<rect x="475.30" y="1668.90" width="14.50" height="14.50" fill="#ff0000"/>
<rect x="514.90" y="1700.40" width="14.50" height="14.50" fill="#c2bd00"/>
<rect x="527.50" y="1706.20" width="14.50" height="14.50" fill="#c2bd00"/>
<rect x="521.00" y="1736.90" width="14.50" height="14.50" fill="#c2bd00"/>
<rect x="561.50" y="1724.60" width="14.50" height="14.50" fill="#00c000"/>
<rect x="554.90" y="1732.80" width="14.50" height="14.50" fill="#00c000"/>
<rect x="568.70" y="1727.10" width="14.50" height="14.50" fill="#00c000"/>
<rect x="601.60" y="1584.20" width="14.50" height="14.50" fill="#ff8000"/>
<rect x="608.00" y="1640.70" width="14.50" height="14.50" fill="#ff8000"/>
<rect x="595.30" y="1647.40" width="14.50" height="14.50" fill="#ff8000"/>
<rect x="641.40" y="1580.90" width="14.50" height="14.50" fill="#f24fdc"/>
<rect x="648.40" y="1635.60" width="14.50" height="14.50" fill="#f24fdc"/>
<rect x="635.50" y="1642.60" width="14.50" height="14.50" fill="#f24fdc"/>
<rect x="408.00" y="1431.00" width="240.90" height="3.40" fill="#000"/>
<path d="M520.95,1414.80L520.95,1426.80M515.75,1417.80L526.15,1423.80M526.15,1417.80L515.75,1423.80" stroke="#000" stroke-width="2.1" fill="none"/>
<path d="M535.95,1414.80L535.95,1426.80M530.75,1417.80L541.15,1423.80M541.15,1417.80L530.75,1423.80" stroke="#000" stroke-width="2.1" fill="none"/>
<rect x="367.80" y="1456.50" width="240.80" height="3.40" fill="#000"/>
<path d="M488.20,1440.30L488.20,1452.30M483.00,1443.30L493.40,1449.30M493.40,1443.30L483.00,1449.30" stroke="#000" stroke-width="2.1" fill="none"/>
<rect x="327.70" y="1482.20" width="240.90" height="3.40" fill="#000"/>
<path d="M440.65,1466.00L440.65,1478.00M435.45,1469.00L445.85,1475.00M445.85,1469.00L435.45,1475.00" stroke="#000" stroke-width="2.1" fill="none"/>
<path d="M455.65,1466.00L455.65,1478.00M450.45,1469.00L460.85,1475.00M460.85,1469.00L450.45,1475.00" stroke="#000" stroke-width="2.1" fill="none"/>
<rect x="287.50" y="1507.50" width="240.80" height="3.40" fill="#000"/>
<path d="M385.40,1491.30L385.40,1503.30M380.20,1494.30L390.60,1500.30M390.60,1494.30L380.20,1500.30" stroke="#000" stroke-width="2.1" fill="none"/>
<path d="M400.40,1491.30L400.40,1503.30M395.20,1494.30L405.60,1500.30M405.60,1494.30L395.20,1500.30" stroke="#000" stroke-width="2.1" fill="none"/>
<path d="M415.40,1491.30L415.40,1503.30M410.20,1494.30L420.60,1500.30M420.60,1494.30L410.20,1500.30" stroke="#000" stroke-width="2.1" fill="none"/>
<path d="M430.40,1491.30L430.40,1503.30M425.20,1494.30L435.60,1500.30M435.60,1494.30L425.20,1500.30" stroke="#000" stroke-width="2.1" fill="none"/>
<rect x="247.10" y="1530.60" width="240.90" height="3.40" fill="#000"/>
<path d="M345.05,1514.40L345.05,1526.40M339.85,1517.40L350.25,1523.40M350.25,1517.40L339.85,1523.40" stroke="#000" stroke-width="2.1" fill="none"/>
<path d="M360.05,1514.40L360.05,1526.40M354.85,1517.40L365.25,1523.40M365.25,1517.40L354.85,1523.40" stroke="#000" stroke-width="2.1" fill="none"/>
<path d="M375.05,1514.40L375.05,1526.40M369.85,1517.40L380.25,1523.40M380.25,1517.40L369.85,1523.40" stroke="#000" stroke-width="2.1" fill="none"/>
<path d="M390.05,1514.40L390.05,1526.40M384.85,1517.40L395.25,1523.40M395.25,1517.40L384.85,1523.40" stroke="#000" stroke-width="2.1" fill="none"/>
<rect x="448.40" y="1543.00" width="200.50" height="3.40" fill="#000"/>
<path d="M526.15,1526.80L526.15,1538.80M520.95,1529.80L531.35,1535.80M531.35,1529.80L520.95,1535.80" stroke="#000" stroke-width="2.1" fill="none"/>
<path d="M541.15,1526.80L541.15,1538.80M535.95,1529.80L546.35,1535.80M546.35,1529.80L535.95,1535.80" stroke="#000" stroke-width="2.1" fill="none"/>
<path d="M556.15,1526.80L556.15,1538.80M550.95,1529.80L561.35,1535.80M561.35,1529.80L550.95,1535.80" stroke="#000" stroke-width="2.1" fill="none"/>
<path d="M571.15,1526.80L571.15,1538.80M565.95,1529.80L576.35,1535.80M576.35,1529.80L565.95,1535.80" stroke="#000" stroke-width="2.1" fill="none"/>
<rect x="448.40" y="1570.40" width="160.20" height="3.40" fill="#000"/>
<path d="M506.00,1554.20L506.00,1566.20M500.80,1557.20L511.20,1563.20M511.20,1557.20L500.80,1563.20" stroke="#000" stroke-width="2.1" fill="none"/>
<path d="M521.00,1554.20L521.00,1566.20M515.80,1557.20L526.20,1563.20M526.20,1557.20L515.80,1563.20" stroke="#000" stroke-width="2.1" fill="none"/>
<path d="M536.00,1554.20L536.00,1566.20M530.80,1557.20L541.20,1563.20M541.20,1557.20L530.80,1563.20" stroke="#000" stroke-width="2.1" fill="none"/>
<path d="M551.00,1554.20L551.00,1566.20M545.80,1557.20L556.20,1563.20M556.20,1557.20L545.80,1563.20" stroke="#000" stroke-width="2.1" fill="none"/>
<rect x="448.40" y="1599.50" width="39.60" height="3.40" fill="#000"/>
<path d="M445.70,1583.30L445.70,1595.30M440.50,1586.30L450.90,1592.30M450.90,1586.30L440.50,1592.30" stroke="#000" stroke-width="2.1" fill="none"/>
<path d="M460.70,1583.30L460.70,1595.30M455.50,1586.30L465.90,1592.30M465.90,1586.30L455.50,1592.30" stroke="#000" stroke-width="2.1" fill="none"/>
<path d="M475.70,1583.30L475.70,1595.30M470.50,1586.30L480.90,1592.30M480.90,1586.30L470.50,1592.30" stroke="#000" stroke-width="2.1" fill="none"/>
<path d="M490.70,1583.30L490.70,1595.30M485.50,1586.30L495.90,1592.30M495.90,1586.30L485.50,1592.30" stroke="#000" stroke-width="2.1" fill="none"/>
<rect x="14.05" y="1864.00" width="656.34" height="2.00" fill="#000"/>
<rect x="14.05" y="1896.25" width="656.34" height="1.50" fill="#000"/>
<rect x="14.05" y="1929.05" width="656.34" height="1.50" fill="#000"/>
<rect x="14.05" y="1961.75" width="656.34" height="1.50" fill="#000"/>
<rect x="14.05" y="1993.20" width="656.34" height="2.00" fill="#000"/>
<rect x="14.05" y="1865.00" width="1.50" height="129.20" fill="#000"/>
<rect x="186.85" y="1865.00" width="1.50" height="129.20" fill="#000"/>
<rect x="227.02" y="1865.00" width="1.50" height="129.20" fill="#000"/>
<rect x="267.19" y="1865.00" width="1.50" height="129.20" fill="#000"/>
<rect x="307.36" y="1865.00" width="1.50" height="129.20" fill="#000"/>
<rect x="347.53" y="1865.00" width="1.50" height="129.20" fill="#000"/>
<rect x="387.70" y="1865.00" width="1.50" height="129.20" fill="#000"/>
<rect x="427.87" y="1865.00" width="1.50" height="129.20" fill="#000"/>
<rect x="468.04" y="1865.00" width="1.50" height="129.20" fill="#000"/>
<rect x="508.21" y="1865.00" width="1.50" height="129.20" fill="#000"/>
<rect x="548.38" y="1865.00" width="1.50" height="129.20" fill="#000"/>
<rect x="588.55" y="1865.00" width="1.50" height="129.20" fill="#000"/>
<rect x="628.72" y="1865.00" width="1.50" height="129.20" fill="#000"/>
<rect x="668.74" y="1865.00" width="1.80" height="129.20" fill="#000"/>
<text transform="translate(17.50,1886.00) scale(1.06,1.12)" font-size="20" font-weight="normal" text-anchor="start">ABT-199 [0.01μM]</text>
<rect x="204.15" y="1882.35" width="14.40" height="1.90" fill="#000"/>
<rect x="240.30" y="1882.35" width="14.40" height="1.90" fill="#000"/>
<rect x="280.34" y="1882.35" width="14.40" height="1.90" fill="#000"/>
<rect x="320.38" y="1882.35" width="14.40" height="1.90" fill="#000"/>
<rect x="360.42" y="1882.35" width="14.40" height="1.90" fill="#000"/>
<rect x="400.46" y="1882.35" width="14.40" height="1.90" fill="#000"/>
<rect x="446.75" y="1875.30" width="1.90" height="12.00" fill="#000"/>
<rect x="441.70" y="1880.15" width="12.00" height="2.30" fill="#000"/>
<rect x="486.79" y="1875.30" width="1.90" height="12.00" fill="#000"/>
<rect x="481.74" y="1880.15" width="12.00" height="2.30" fill="#000"/>
<rect x="526.83" y="1875.30" width="1.90" height="12.00" fill="#000"/>
<rect x="521.78" y="1880.15" width="12.00" height="2.30" fill="#000"/>
<rect x="566.87" y="1875.30" width="1.90" height="12.00" fill="#000"/>
<rect x="561.82" y="1880.15" width="12.00" height="2.30" fill="#000"/>
<rect x="606.91" y="1875.30" width="1.90" height="12.00" fill="#000"/>
<rect x="601.86" y="1880.15" width="12.00" height="2.30" fill="#000"/>
<rect x="646.95" y="1875.30" width="1.90" height="12.00" fill="#000"/>
<rect x="641.90" y="1880.15" width="12.00" height="2.30" fill="#000"/>
<text transform="translate(17.50,1918.40) scale(1.06,1.12)" font-size="20" font-weight="normal" text-anchor="start">IFNα (500 pg/mL)</text>
<rect x="204.15" y="1914.75" width="14.40" height="1.90" fill="#000"/>
<rect x="246.55" y="1907.70" width="1.90" height="12.00" fill="#000"/>
<rect x="241.50" y="1912.55" width="12.00" height="2.30" fill="#000"/>
<rect x="280.34" y="1914.75" width="14.40" height="1.90" fill="#000"/>
<rect x="320.38" y="1914.75" width="14.40" height="1.90" fill="#000"/>
<rect x="366.67" y="1907.70" width="1.90" height="12.00" fill="#000"/>
<rect x="361.62" y="1912.55" width="12.00" height="2.30" fill="#000"/>
<rect x="406.71" y="1907.70" width="1.90" height="12.00" fill="#000"/>
<rect x="401.66" y="1912.55" width="12.00" height="2.30" fill="#000"/>
<rect x="440.50" y="1914.75" width="14.40" height="1.90" fill="#000"/>
<rect x="486.79" y="1907.70" width="1.90" height="12.00" fill="#000"/>
<rect x="481.74" y="1912.55" width="12.00" height="2.30" fill="#000"/>
<rect x="520.58" y="1914.75" width="14.40" height="1.90" fill="#000"/>
<rect x="560.62" y="1914.75" width="14.40" height="1.90" fill="#000"/>
<rect x="606.91" y="1907.70" width="1.90" height="12.00" fill="#000"/>
<rect x="601.86" y="1912.55" width="12.00" height="2.30" fill="#000"/>
<rect x="646.95" y="1907.70" width="1.90" height="12.00" fill="#000"/>
<rect x="641.90" y="1912.55" width="12.00" height="2.30" fill="#000"/>
<text transform="translate(17.50,1951.15) scale(1.06,1.12)" font-size="20" font-weight="normal" text-anchor="start">IFNγ (250 pg/mL)</text>
<rect x="204.15" y="1947.50" width="14.40" height="1.90" fill="#000"/>
<rect x="240.30" y="1947.50" width="14.40" height="1.90" fill="#000"/>
<rect x="286.59" y="1940.45" width="1.90" height="12.00" fill="#000"/>
<rect x="281.54" y="1945.30" width="12.00" height="2.30" fill="#000"/>
<rect x="320.38" y="1947.50" width="14.40" height="1.90" fill="#000"/>
<rect x="360.42" y="1947.50" width="14.40" height="1.90" fill="#000"/>
<rect x="406.71" y="1940.45" width="1.90" height="12.00" fill="#000"/>
<rect x="401.66" y="1945.30" width="12.00" height="2.30" fill="#000"/>
<rect x="440.50" y="1947.50" width="14.40" height="1.90" fill="#000"/>
<rect x="480.54" y="1947.50" width="14.40" height="1.90" fill="#000"/>
<rect x="526.83" y="1940.45" width="1.90" height="12.00" fill="#000"/>
<rect x="521.78" y="1945.30" width="12.00" height="2.30" fill="#000"/>
<rect x="560.62" y="1947.50" width="14.40" height="1.90" fill="#000"/>
<rect x="600.66" y="1947.50" width="14.40" height="1.90" fill="#000"/>
<rect x="646.95" y="1940.45" width="1.90" height="12.00" fill="#000"/>
<rect x="641.90" y="1945.30" width="12.00" height="2.30" fill="#000"/>
<text transform="translate(17.50,1983.35) scale(1.06,1.12)" font-size="20" font-weight="normal" text-anchor="start">TNFα (500 pg/mL)</text>
<rect x="204.15" y="1979.70" width="14.40" height="1.90" fill="#000"/>
<rect x="240.30" y="1979.70" width="14.40" height="1.90" fill="#000"/>
<rect x="280.34" y="1979.70" width="14.40" height="1.90" fill="#000"/>
<rect x="326.63" y="1972.65" width="1.90" height="12.00" fill="#000"/>
<rect x="321.58" y="1977.50" width="12.00" height="2.30" fill="#000"/>
<rect x="366.67" y="1972.65" width="1.90" height="12.00" fill="#000"/>
<rect x="361.62" y="1977.50" width="12.00" height="2.30" fill="#000"/>
<rect x="406.71" y="1972.65" width="1.90" height="12.00" fill="#000"/>
<rect x="401.66" y="1977.50" width="12.00" height="2.30" fill="#000"/>
<rect x="440.50" y="1979.70" width="14.40" height="1.90" fill="#000"/>
<rect x="480.54" y="1979.70" width="14.40" height="1.90" fill="#000"/>
<rect x="520.58" y="1979.70" width="14.40" height="1.90" fill="#000"/>
<rect x="566.87" y="1972.65" width="1.90" height="12.00" fill="#000"/>
<rect x="561.82" y="1977.50" width="12.00" height="2.30" fill="#000"/>
<rect x="606.91" y="1972.65" width="1.90" height="12.00" fill="#000"/>
<rect x="601.86" y="1977.50" width="12.00" height="2.30" fill="#000"/>
<rect x="646.95" y="1972.65" width="1.90" height="12.00" fill="#000"/>
<rect x="641.90" y="1977.50" width="12.00" height="2.30" fill="#000"/>
</svg>
</body></html>
